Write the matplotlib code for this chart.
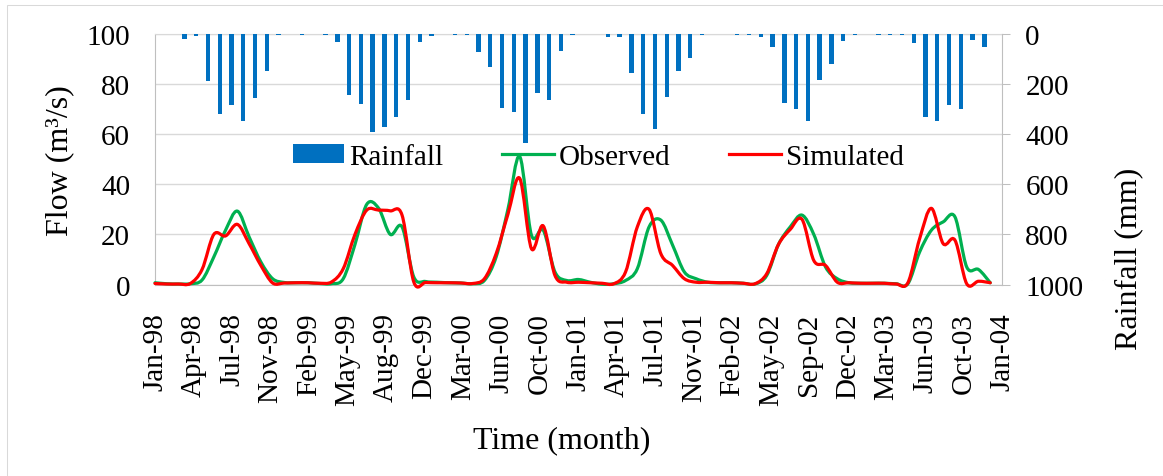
import numpy as np
import matplotlib
matplotlib.use("Agg")
import matplotlib.pyplot as plt
from matplotlib.path import Path
from matplotlib.patches import PathPatch, Rectangle
from matplotlib.lines import Line2D

plt.rcParams['font.family'] = ['Liberation Serif', 'DejaVu Serif']

# monthly series, Jan-98 .. Dec-03
rainfall = [0, 0, 20, 9, 187, 320, 283, 348, 255, 147, 4, 0,
            3, 0, 3, 33, 245, 281, 391, 373, 331, 264, 33, 7,
            0, 4, 4, 73, 133, 297, 313, 436, 236, 264, 69, 4,
            0, 0, 11, 11, 156, 321, 380, 253, 148, 95, 4, 0,
            0, 3, 4, 13, 51, 277, 300, 347, 183, 120, 27, 4,
            0, 3, 3, 5, 37, 333, 347, 283, 300, 23, 53, 0]
observed = [0.7, 0.3, 0.2, 0.3, 1.8, 11, 21.7, 29.3, 19, 9, 2.3, 0.8,
            0.7, 0.7, 0.4, 0.3, 2.3, 16, 32, 30.5, 20, 23, 3, 1.2,
            0.9, 0.7, 0.6, 0.3, 1.6, 11, 30, 51.1, 19.7, 21.7, 5, 1.6,
            2, 0.9, 0.1, 0.3, 1.6, 6.3, 23, 25.7, 15.7, 5, 2.3, 0.9,
            0.7, 0.7, 0.5, 0.2, 3.6, 16, 23, 27.7, 20, 7, 2.3, 0.7,
            0.5, 0.5, 0.5, 0.3, 0.3, 13, 21.7, 25, 27, 7, 6, 0.7]
simulated = [0.4, 0.2, 0.2, 0.4, 6, 20, 19.4, 24, 16.3, 7.6, 0.6, 0.6,
             0.7, 0.7, 0.5, 1, 6.3, 20, 29.7, 29.7, 29.4, 27.7, 1.0, 0.8,
             0.7, 0.7, 0.6, 0.4, 2.3, 12.3, 28, 42.4, 14.3, 23.4, 3.6, 0.9,
             0.9, 0.7, 0.5, 0.3, 5, 23, 30, 12.3, 7.6, 2.3, 0.9, 0.9,
             0.7, 0.7, 0.5, 0.3, 4.3, 16, 22, 26, 9.6, 7.6, 0.9, 0.7,
             0.5, 0.5, 0.5, 0.2, 0.7, 18.3, 30.4, 16.3, 17.7, 0.3, 1.3, 0.7]
tick_labels = ['Jan-98', 'Apr-98', 'Jul-98', 'Nov-98', 'Feb-99', 'May-99',
               'Aug-99', 'Dec-99', 'Mar-00', 'Jun-00', 'Oct-00', 'Jan-01',
               'Apr-01', 'Jul-01', 'Nov-01', 'Feb-02', 'May-02', 'Sep-02',
               'Dec-02', 'Mar-03', 'Jun-03', 'Oct-03', 'Jan-04']

months = np.arange(len(observed))


def smooth_path(x, y):
    # Excel-style smoothed line: Catmull-Rom segments as cubic Beziers
    pts = np.column_stack([x, y]).astype(float)
    ext = np.vstack([pts[0], pts, pts[-1]])
    verts = [pts[0]]
    codes = [Path.MOVETO]
    for k in range(len(pts) - 1):
        p0, p1, p2, p3 = ext[k], ext[k + 1], ext[k + 2], ext[k + 3]
        verts += [p1 + (p2 - p0) / 6, p2 - (p3 - p1) / 6, p2]
        codes += [Path.CURVE4] * 3
    return Path(verts, codes)


W, H = 1163, 477
fig = plt.figure(figsize=(W / 100, H / 100), dpi=100)
ax = fig.add_axes([155 / W, 1 - 285.5 / H, 847 / W, 250.5 / H])
ax2 = ax.twinx()

grid_c = '#D9D9D9'
axis_c = '#BFBFBF'
fs = 21
title_fs = 23

# flow lines
green, red = '#00B050', '#FF0000'
for series, col in [(observed, green), (simulated, red)]:
    patch = PathPatch(smooth_path(months, series), fill=False, edgecolor=col,
                      lw=2.3, joinstyle='round', capstyle='round',
                      clip_on=False, zorder=3)
    ax.add_patch(patch)

ax.set_xlim(0, 72)
ax.set_ylim(0, 100)
ax.set_yticks(np.arange(0, 101, 20))
ax.set_xticks(np.linspace(0, 72, len(tick_labels)))
ax.set_xticklabels(tick_labels, rotation=90)
ax.grid(axis='y', color=grid_c, lw=1)
ax.set_axisbelow(True)
ax.tick_params(axis='y', length=0, pad=18, labelsize=fs)
ax.tick_params(axis='x', length=0, pad=20, labelsize=fs)
for side in ['left', 'bottom']:
    ax.spines[side].set_color(axis_c)
ax.spines['top'].set_color(grid_c)
ax.spines['right'].set_visible(False)

# rainfall bars on inverted right axis
bars = ax2.bar(months + 0.5, rainfall, width=0.37, color='#0070C0', zorder=2)
ax2.set_ylim(1000, 0)
ax2.set_yticks(np.arange(0, 1001, 200))
ax2.tick_params(axis='y', direction='out', length=5.8, width=0.75,
                color=axis_c, pad=11, labelsize=fs)
ax2.spines['right'].set_color(axis_c)
for side in ['left', 'top', 'bottom']:
    ax2.spines[side].set_visible(False)

ax.set_ylabel('Flow (m³/s)', fontsize=title_fs)
ax.yaxis.label.set_verticalalignment('center')
ax.yaxis.set_label_coords((60 - 155) / 847, 0.5)
ax2.set_ylabel('Rainfall (mm)', fontsize=title_fs)
ax2.yaxis.label.set_verticalalignment('center')
ax2.yaxis.set_label_coords((1129 - 155) / 847, (285.5 - 259) / 250.5)
ax.set_xlabel('Time (month)', fontsize=title_fs)
ax.xaxis.label.set_verticalalignment('center')
ax.xaxis.set_label_coords((562 - 155) / 847, (285.5 - 441) / 250.5)

handles = [bars,
           Line2D([], [], color=green, lw=2.3),
           Line2D([], [], color=red, lw=2.3)]
fig.legend(handles, ['Rainfall', 'Observed', 'Simulated'], loc='center',
           bbox_to_anchor=(598 / W, 1 - 158 / H), ncol=3, frameon=False,
           fontsize=fs, handlelength=1.78, handleheight=0.65,
           handletextpad=0.17, columnspacing=2.0)

# light chart-area border
fig.patches.append(Rectangle((7 / W, -0.1), 1.2, 1.1 - 5.5 / H,
                             transform=fig.transFigure, fill=False,
                             edgecolor=grid_c, lw=0.75))

fig.savefig('out.png', dpi=100)
